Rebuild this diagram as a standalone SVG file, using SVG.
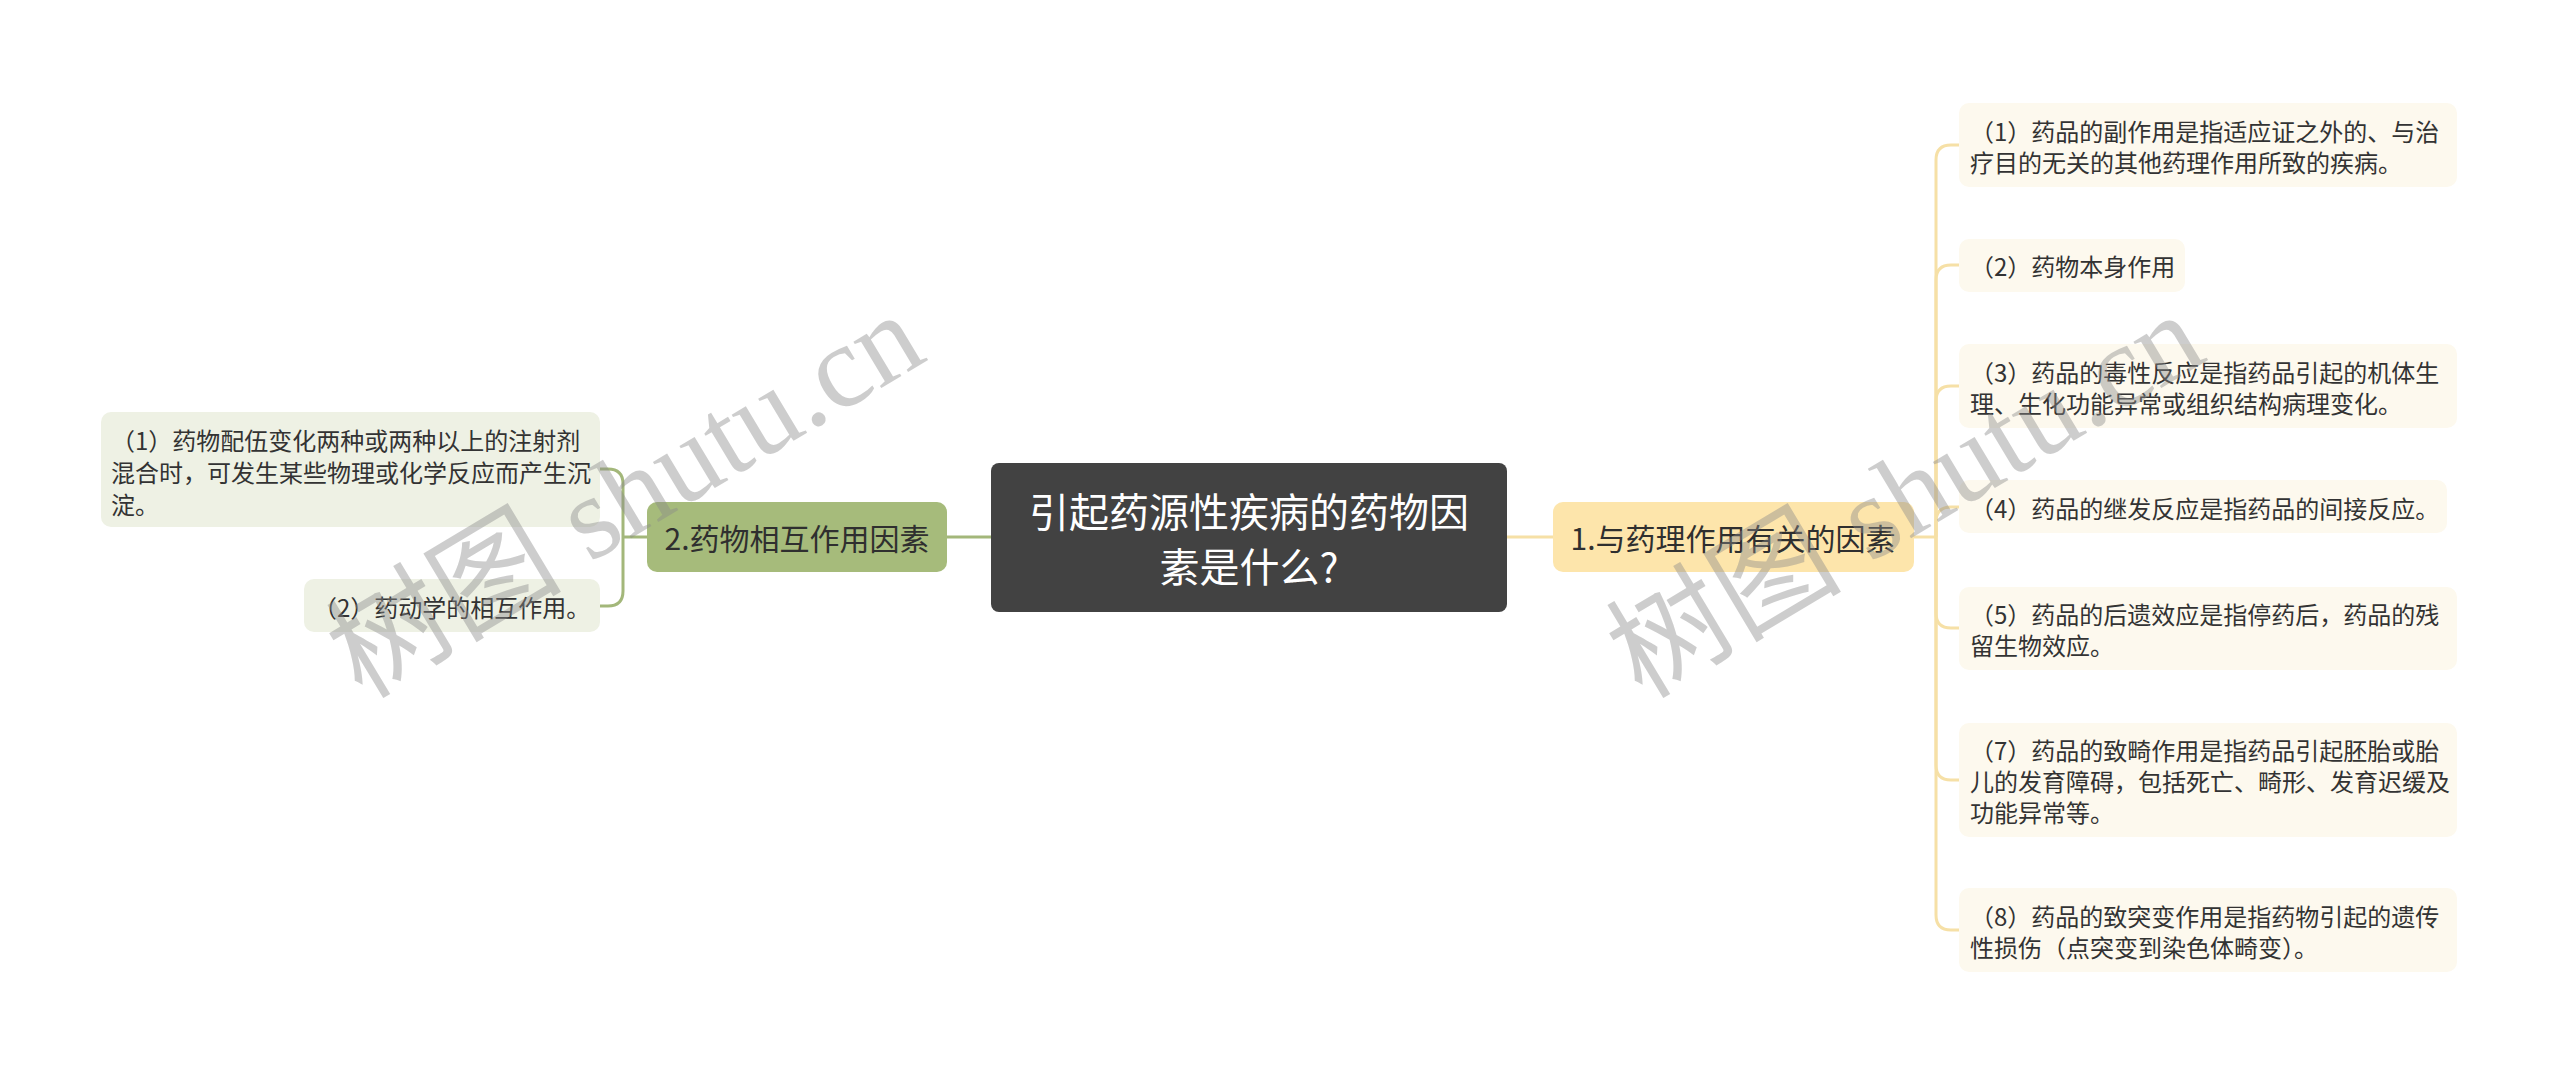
<svg xmlns="http://www.w3.org/2000/svg" width="2560" height="1075" viewBox="0 0 2560 1075">
<style>
text{font-family:"Noto Sans CJK SC","Noto Sans",sans-serif;dominant-baseline:central}
.root{fill:#424242}
.rootT{fill:#ffffff;font-size:40px;text-anchor:middle}
.b1{fill:#fde5ab}
.b2{fill:#a6bb7b}
.bt{fill:#2f2f2f;font-size:30px;text-anchor:middle}
.lc{fill:#eef1e4}
.rc{fill:#fdf9ee}
.ct{fill:#333333;font-size:24px}
.lnY{fill:none;stroke:#f6e0a6;stroke-width:3}
.lnG{fill:none;stroke:#a3b77a;stroke-width:3}
.wm{font-family:"Liberation Serif","Noto Sans CJK SC",serif;font-size:118px;fill:#8a8a8a;opacity:0.42;dominant-baseline:alphabetic}
</style>
<rect width="2560" height="1075" fill="#ffffff"/>
<g id="connectors">
<path class="lnY" d="M1507,537 H1553"/>
<path class="lnG" d="M991,537 H947"/>
<path class="lnY" d="M1914,537 H1936"/>
<path class="lnY" d="M1936,537 V160 Q1936,145 1951,145 H1959"/>
<path class="lnY" d="M1936,537 V280 Q1936,265 1951,265 H1959"/>
<path class="lnY" d="M1936,537 V401 Q1936,386 1951,386 H1959"/>
<path class="lnY" d="M1936,537 V522 Q1936,507 1951,507 H1959"/>
<path class="lnY" d="M1936,537 V613 Q1936,628 1951,628 H1959"/>
<path class="lnY" d="M1936,537 V765 Q1936,780 1951,780 H1959"/>
<path class="lnY" d="M1936,537 V915 Q1936,930 1951,930 H1959"/>
<path class="lnG" d="M647,537 H623"/>
<path class="lnG" d="M623,537 V484 Q623,469 608,469 H600"/>
<path class="lnG" d="M623,537 V591 Q623,606 608,606 H600"/>
</g>
<g id="root">
<rect class="root" x="991" y="463" width="516" height="149" rx="8"/>
<text class="rootT" x="1249" y="510">引起药源性疾病的药物因</text>
<text class="rootT" x="1249" y="565">素是什么?</text>
</g>
<g id="n1">
<rect class="b1" x="1553" y="502" width="361" height="70" rx="10"/>
<text class="bt" x="1733" y="537">1.与药理作用有关的因素</text>
</g>
<g id="n2">
<rect class="b2" x="647" y="502" width="300" height="70" rx="10"/>
<text class="bt" x="797" y="537">2.药物相互作用因素</text>
</g>
<g id="l1">
<rect class="lc" x="101" y="412" width="499" height="115" rx="10"/>
<text class="ct" x="111" y="439">（1）药物配伍变化两种或两种以上的注射剂</text>
<text class="ct" x="111" y="471">混合时，可发生某些物理或化学反应而产生沉</text>
<text class="ct" x="111" y="503">淀。</text>
</g>
<g id="l2">
<rect class="lc" x="304" y="579" width="296" height="53" rx="10"/>
<text class="ct" x="313" y="606">（2）药动学的相互作用。</text>
</g>
<g id="r1">
<rect class="rc" x="1959" y="103" width="498" height="84" rx="10"/>
<text class="ct" x="1970" y="130">（1）药品的副作用是指适应证之外的、与治</text>
<text class="ct" x="1970" y="161">疗目的无关的其他药理作用所致的疾病。</text>
</g>
<g id="r2">
<rect class="rc" x="1959" y="239" width="226" height="53" rx="10"/>
<text class="ct" x="1970" y="265">（2）药物本身作用</text>
</g>
<g id="r3">
<rect class="rc" x="1959" y="344" width="498" height="84" rx="10"/>
<text class="ct" x="1970" y="371">（3）药品的毒性反应是指药品引起的机体生</text>
<text class="ct" x="1970" y="402">理、生化功能异常或组织结构病理变化。</text>
</g>
<g id="r4">
<rect class="rc" x="1959" y="480" width="488" height="53" rx="10"/>
<text class="ct" x="1970" y="507">（4）药品的继发反应是指药品的间接反应。</text>
</g>
<g id="r5">
<rect class="rc" x="1959" y="587" width="498" height="83" rx="10"/>
<text class="ct" x="1970" y="613">（5）药品的后遗效应是指停药后，药品的残</text>
<text class="ct" x="1970" y="644">留生物效应。</text>
</g>
<g id="r7">
<rect class="rc" x="1959" y="723" width="498" height="114" rx="10"/>
<text class="ct" x="1970" y="749">（7）药品的致畸作用是指药品引起胚胎或胎</text>
<text class="ct" x="1970" y="780">儿的发育障碍，包括死亡、畸形、发育迟缓及</text>
<text class="ct" x="1970" y="811">功能异常等。</text>
</g>
<g id="r8">
<rect class="rc" x="1959" y="888" width="498" height="84" rx="10"/>
<text class="ct" x="1970" y="915">（8）药品的致突变作用是指药物引起的遗传</text>
<text class="ct" x="1970" y="946">性损伤（点突变到染色体畸变）。</text>
</g>
<g id="watermark">
<text class="wm" x="362" y="700" transform="rotate(-31 362 700)">树图 shutu.cn</text>
<text class="wm" x="1642" y="700" transform="rotate(-31 1642 700)">树图 shutu.cn</text>
</g>
</svg>
